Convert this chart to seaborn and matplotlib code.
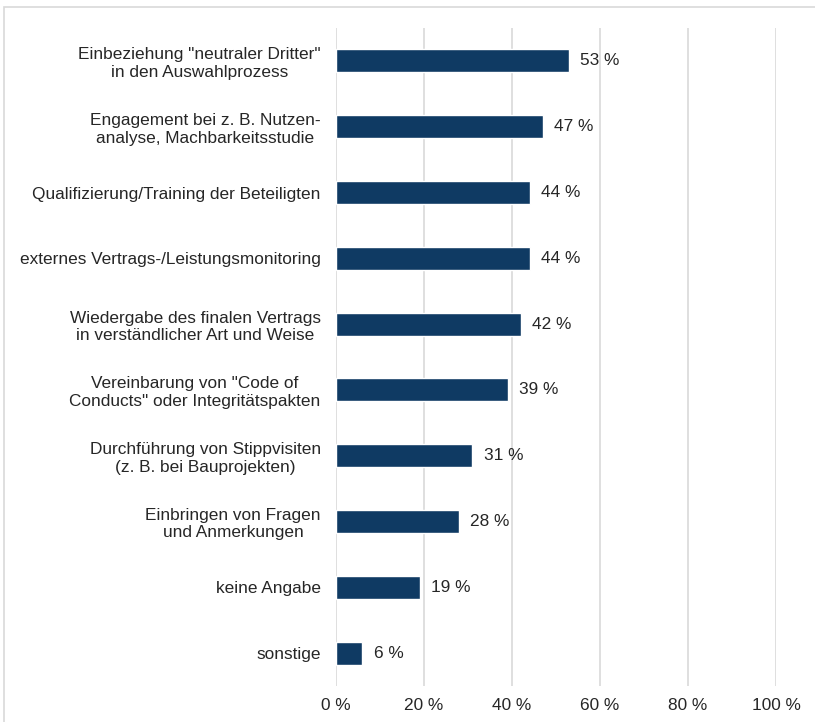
import matplotlib
matplotlib.use("Agg")
import matplotlib.pyplot as plt
import seaborn as sns
import pandas as pd
from matplotlib.patches import Rectangle

categories = [
    'Einbeziehung "neutraler Dritter"\nin den Auswahlprozess',
    'Engagement bei z. B. Nutzen-\nanalyse, Machbarkeitsstudie',
    'Qualifizierung/Training der Beteiligten',
    'externes Vertrags-/Leistungsmonitoring',
    'Wiedergabe des finalen Vertrags\nin verständlicher Art und Weise',
    'Vereinbarung von "Code of\nConducts" oder Integritätspakten',
    'Durchführung von Stippvisiten\n(z. B. bei Bauprojekten)',
    'Einbringen von Fragen\nund Anmerkungen',
    'keine Angabe',
    'sonstige',
]
values = [53, 47, 44, 44, 42, 39, 31, 28, 19, 6]
x_ticks = [0, 20, 40, 60, 80, 100]
x_tick_labels = ["0 %", "20 %", "40 %", "60 %", "80 %", "100 %"]

sns.set_theme(style="white")
plt.rcParams["font.family"] = ["Liberation Sans", "DejaVu Sans"]

df = pd.DataFrame({"Maßnahme": categories, "Anteil": values})

fig = plt.figure(figsize=(8.15, 7.22), dpi=100)
ax = fig.add_axes([336 / 815, 1 - 686 / 722, 440 / 815, 658 / 722])

bar_color = "#0F3A63"
sns.barplot(data=df, x="Anteil", y="Maßnahme", color=bar_color, width=0.35,
            saturation=1, ax=ax, orient="h")

ax.set_xlim(0, 100)
ax.set_ylim(9.5, -0.5)
ax.set_xticks(x_ticks)
ax.set_xticklabels(x_tick_labels)
ax.xaxis.grid(True, color="#D9D9D9", linewidth=1.2)
ax.set_axisbelow(True)
for s in ax.spines.values():
    s.set_visible(False)
ax.set_xlabel("")
ax.set_ylabel("")

text_color = "#262626"
fs = 12.4
ax.tick_params(axis="x", length=0, pad=9, labelsize=fs, labelcolor=text_color)
ax.tick_params(axis="y", length=0, pad=11, labelsize=fs, labelcolor=text_color)
for lbl in ax.get_yticklabels():
    lbl.set_multialignment("center")

for i, v in enumerate(values):
    ax.annotate(f"{v} %", xy=(v, i), xytext=(8, 0), textcoords="offset points",
                va="center", ha="left", fontsize=fs, color=text_color)

# light frame around the chart area
fig.patches.append(Rectangle((4 / 815, -0.01), 1.02, 1 - 7 / 722 + 0.01,
                             transform=fig.transFigure, fill=False,
                             edgecolor="#D9D9D9", linewidth=1.2))

fig.savefig("out.png", dpi=100)
